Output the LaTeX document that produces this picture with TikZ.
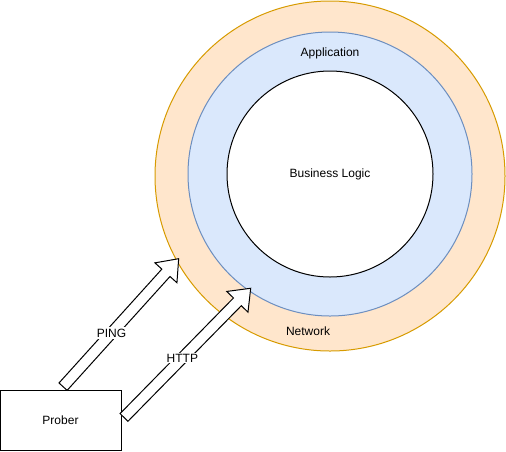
\documentclass[tikz,border=0pt]{standalone}
\usepackage{fontspec}
\setmainfont{Liberation Sans}
\usetikzlibrary{shapes.arrows, calc}

\definecolor{netfill}{HTML}{FFE6CC}
\definecolor{netline}{HTML}{D79B00}
\definecolor{appfill}{HTML}{DAE8FC}
\definecolor{appline}{HTML}{6C8EBF}

\begin{document}
\begin{tikzpicture}[
    x=0.75pt, y=-0.75pt,
    font=\fontsize{9}{11}\selectfont,
    ring/.style={circle, line width=0.75pt, inner sep=0pt},
    box/.style={rectangle, draw=black, line width=0.75pt, minimum width=90.75pt, minimum height=45pt},
    blockarrow/.style={single arrow, draw=black, fill=white, line width=0.75pt, inner xsep=0pt, inner ysep=3.75pt, single arrow head extend=7pt, single arrow tip angle=76},
    tag/.style={fill=white, inner sep=1pt}
]
\useasboundingbox (0,0) rectangle (506,451);

% Layers
\node[ring, draw=netline, fill=netfill, minimum size=262.5pt] (network) at (330,176) {};
\node[ring, draw=appline, fill=appfill, minimum size=213pt] (application) at (330,174) {};
\node[ring, draw=black, fill=white, minimum size=154.5pt] (logic) at (330,174) {Business Logic};

\node (applabel) at (330,53) {Application};
\node (netlabel) at (308,331) {Network};

% Prober
\node[box] (prober) at (60.5,420) {Prober};

% Probe arrows
\coordinate (pingtail) at (prober.north);
\coordinate (pingtip) at (network.209);
\coordinate (httptail) at (prober.east);
\coordinate (httptip) at (application.235);

\path let \p1=($(pingtip)-(pingtail)$), \n1={veclen(\x1,\y1)}, \n2={atan2(\y1,\x1)} in
    node[blockarrow, minimum height=\n1, rotate=\n2] (pingarrow) at ($(pingtail)!0.5!(pingtip)$) {};
\path let \p1=($(httptip)-(httptail)$), \n1={veclen(\x1,\y1)}, \n2={atan2(\y1,\x1)} in
    node[blockarrow, minimum height=\n1, rotate=\n2] (httparrow) at ($(httptail)!0.5!(httptip)$) {};

\node[tag] (pinglabel) at ($(pingtail)!0.44!(pingtip)$) {PING};
\node[tag] (httplabel) at ($(httptail)!0.48!(httptip)$) {HTTP};

\end{tikzpicture}
\end{document}
